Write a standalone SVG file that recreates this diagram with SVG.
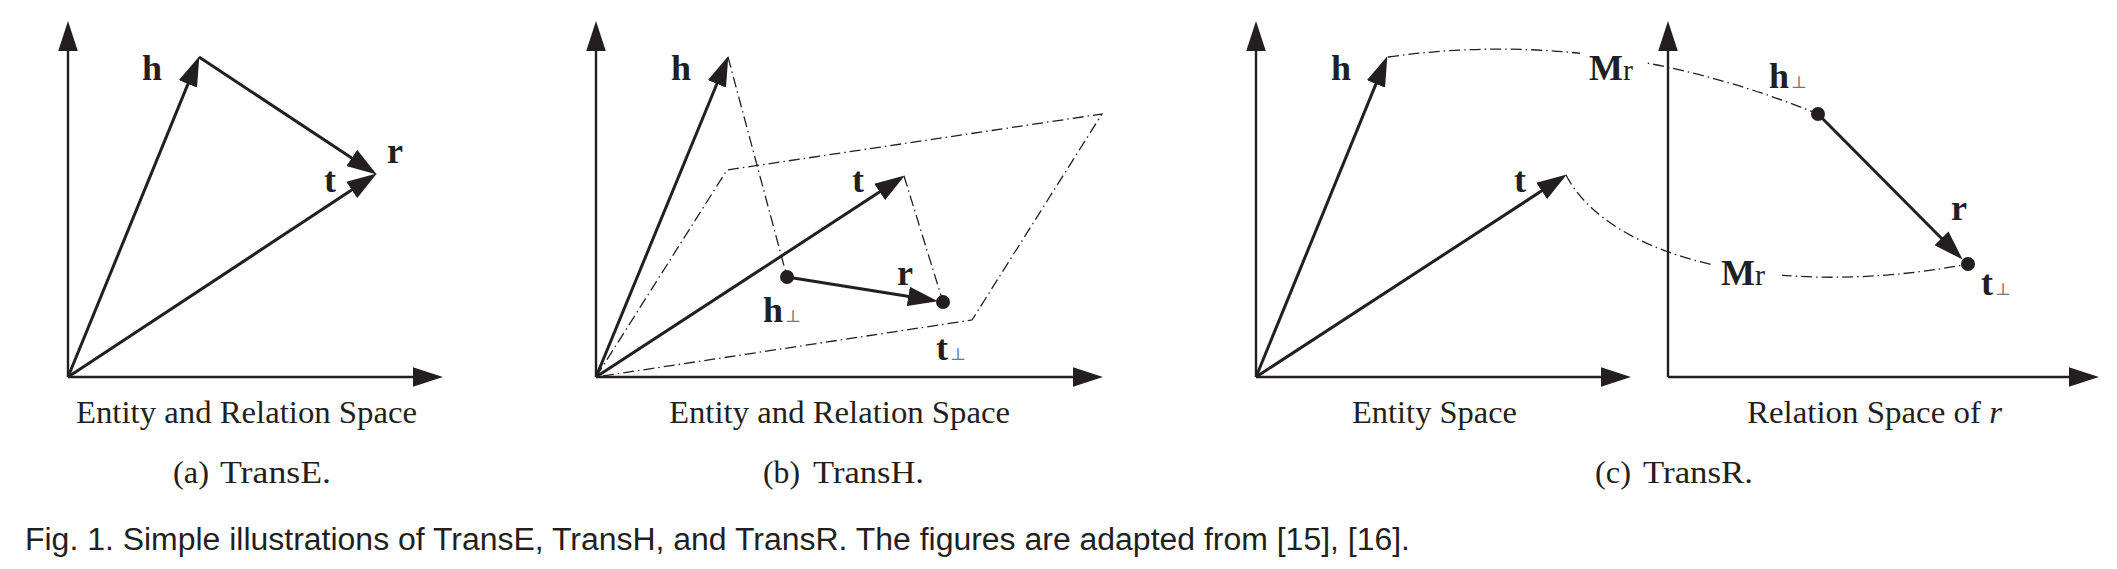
<svg xmlns="http://www.w3.org/2000/svg" width="2117" height="569" viewBox="0 0 2117 569">
<style>
.axis{stroke:#231f20;stroke-width:2.4;fill:none;marker-end:url(#arr)}
.vec{stroke:#231f20;stroke-width:3;fill:none;marker-end:url(#arr)}
.dd{stroke:#231f20;stroke-width:1.3;fill:none;stroke-dasharray:11 4 1.5 4}
.dot{fill:#231f20}
.lbl{font-family:"Liberation Serif","Times New Roman",serif;font-weight:bold;font-size:36px;fill:#231f20}
.sub{font-family:"DejaVu Serif","Liberation Serif",serif;font-weight:normal;font-size:17px;fill:#777}
.rr{font-family:"Liberation Serif",serif;font-weight:normal;font-size:30px;fill:#231f20}
.ax{font-family:"Liberation Serif","Times New Roman",serif;font-size:31px;fill:#231f20}
.cap{font-family:"Liberation Sans",Arial,sans-serif;font-size:31px;fill:#231f20}
</style>
<defs>
<marker id="arr" markerUnits="userSpaceOnUse" markerWidth="30" markerHeight="20" viewBox="0 0 26 17" refX="20" refY="8.5" orient="auto">
<path d="M0,0 L26,8.5 L0,17 z" fill="#231f20"/>
</marker>
</defs>
<g id="connectors">
<!-- panel a -->
<line class="axis" x1="68" y1="377" x2="68" y2="28"/>
<line class="axis" x1="68" y1="377" x2="436" y2="377"/>
<line class="vec" x1="68" y1="377" x2="196.7" y2="62.6"/>
<line class="vec" x1="199" y1="57" x2="371" y2="170.7"/>
<line class="vec" x1="68" y1="377" x2="371" y2="177.3"/>
<!-- panel b -->
<polygon class="dd" points="596,377 727,170 1102,114 972,320"/>
<line class="dd" x1="728" y1="57" x2="787" y2="277"/>
<line class="dd" x1="904" y1="176" x2="943" y2="302"/>
<line class="axis" x1="596" y1="377" x2="596" y2="28"/>
<line class="axis" x1="596" y1="377" x2="1096" y2="377"/>
<line class="vec" x1="596" y1="377" x2="725.7" y2="62.5"/>
<line class="vec" x1="596" y1="377" x2="899" y2="179.3"/>
<line class="vec" x1="787" y1="277" x2="931.1" y2="300.1"/>
<!-- panel c -->
<path class="dd" d="M1388,57 Q1603,26.5 1818,114"/>
<path class="dd" d="M1566,175 C1610,260 1780,300 1968,264"/>
<rect x="1580" y="42" width="66" height="42" fill="#fff"/>
<rect x="1712" y="256" width="70" height="34" fill="#fff"/>
<line class="axis" x1="1256" y1="377" x2="1256" y2="28"/>
<line class="axis" x1="1256" y1="377" x2="1624" y2="377"/>
<line class="vec" x1="1256" y1="377" x2="1384.7" y2="62.6"/>
<line class="vec" x1="1256" y1="377" x2="1561" y2="178.3"/>
<line class="axis" x1="1668" y1="377" x2="1668" y2="28"/>
<line class="axis" x1="1668" y1="377" x2="2092" y2="377"/>
<line class="vec" x1="1818" y1="114" x2="1957.8" y2="254.7"/>
</g>
<g id="points">
<circle id="b-hperp" class="dot" cx="787" cy="277" r="7"/>
<circle id="b-tperp" class="dot" cx="943" cy="302" r="7"/>
<circle id="c-hperp" class="dot" cx="1818" cy="114" r="7"/>
<circle id="c-tperp" class="dot" cx="1968" cy="264" r="7"/>
</g>
<g id="panel-a-labels">
<text class="lbl" x="142" y="80">h</text>
<text class="lbl" x="324" y="192">t</text>
<text class="lbl" x="387" y="163">r</text>
<text class="ax" x="76" y="423" textLength="341" lengthAdjust="spacingAndGlyphs">Entity and Relation Space</text>
<text class="ax" x="173" y="483" textLength="36" lengthAdjust="spacingAndGlyphs">(a)</text>
<text class="ax" x="220" y="483" textLength="111" lengthAdjust="spacingAndGlyphs">TransE.</text>
</g>
<g id="panel-b-labels">
<text class="lbl" x="671" y="80">h</text>
<text class="lbl" x="852" y="192">t</text>
<text class="lbl" x="897" y="285">r</text>
<text class="lbl" x="763" y="322">h<tspan class="sub" dx="2">⊥</tspan></text>
<text class="lbl" x="936" y="360">t<tspan class="sub" dx="2">⊥</tspan></text>
<text class="ax" x="669" y="423" textLength="341" lengthAdjust="spacingAndGlyphs">Entity and Relation Space</text>
<text class="ax" x="763" y="483" textLength="37" lengthAdjust="spacingAndGlyphs">(b)</text>
<text class="ax" x="813" y="483" textLength="111" lengthAdjust="spacingAndGlyphs">TransH.</text>
</g>
<g id="panel-c-labels">
<text class="lbl" x="1331" y="80">h</text>
<text class="lbl" x="1514" y="192">t</text>
<text class="lbl" x="1589" y="80">M<tspan class="rr">r</tspan></text>
<text class="lbl" x="1769" y="88">h<tspan class="sub" dx="2">⊥</tspan></text>
<text class="lbl" x="1951" y="220">r</text>
<text class="lbl" x="1721" y="285">M<tspan class="rr">r</tspan></text>
<text class="lbl" x="1981" y="295">t<tspan class="sub" dx="2">⊥</tspan></text>
<text class="ax" x="1352" y="423" textLength="165" lengthAdjust="spacingAndGlyphs">Entity Space</text>
<text class="ax" x="1747" y="423" textLength="255" lengthAdjust="spacingAndGlyphs">Relation Space of <tspan font-style="italic">r</tspan></text>
<text class="ax" x="1595" y="483" textLength="36" lengthAdjust="spacingAndGlyphs">(c)</text>
<text class="ax" x="1643" y="483" textLength="110" lengthAdjust="spacingAndGlyphs">TransR.</text>
</g>
<g id="caption">
<text class="cap" x="25" y="550" textLength="1385" lengthAdjust="spacingAndGlyphs">Fig. 1. Simple illustrations of TransE, TransH, and TransR. The figures are adapted from [15], [16].</text>
</g>
</svg>
